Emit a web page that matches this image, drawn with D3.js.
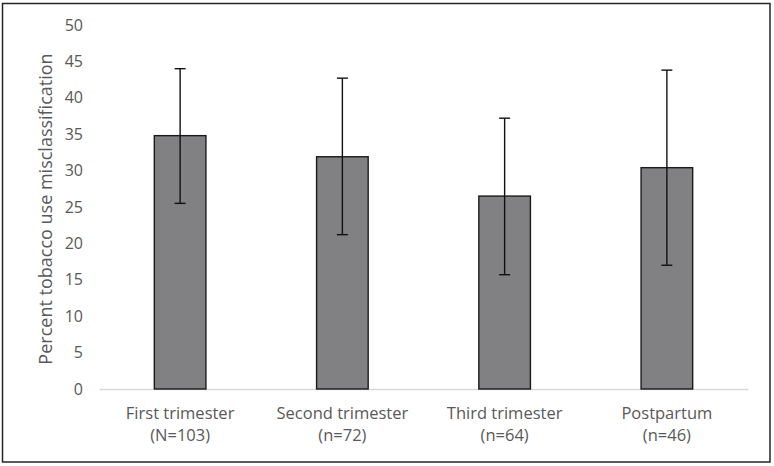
<!DOCTYPE html>
<html>
<head>
<meta charset="utf-8">
<script src="https://cdn.jsdelivr.net/npm/d3@7/dist/d3.min.js"></script>
<style>
  html, body { margin: 0; padding: 0; background: #fff; }
  svg { display: block; }
  text { font-family: "Open Sans", "Noto Sans", sans-serif; fill: #595959; }
</style>
</head>
<body>
<svg id="chart" width="774" height="466"></svg>
<script>
const categories = ["First trimester", "Second trimester", "Third trimester", "Postpartum"];
const sampleSizes = ["(N=103)", "(n=72)", "(n=64)", "(n=46)"];
const values = [34.8, 31.9, 26.5, 30.4];
const errUpper = [44.0, 42.7, 37.2, 43.8];
const errLower = [25.5, 21.2, 15.7, 17.0];
const yTicks = [0, 5, 10, 15, 20, 25, 30, 35, 40, 45, 50];
const yTitle = "Percent tobacco use misclassification";

const svg = d3.select("#chart");

svg.append("rect")
  .attr("x", 2.5).attr("y", 3.5).attr("width", 767.5).attr("height", 458.5)
  .attr("fill", "#fff").attr("stroke", "#262626").attr("stroke-width", 1.5);

const x = d3.scaleBand().domain(categories).range([99, 748]).padding(0);
const y = d3.scaleLinear().domain([0, 50]).range([389, 25]);
const barW = x.bandwidth() * 0.318;

// y axis labels
const yAxis = d3.axisLeft(y).tickValues(yTicks).tickSize(0).tickPadding(0);
const gy = svg.append("g").attr("transform", "translate(83,0)").call(yAxis);
gy.select(".domain").remove();
gy.selectAll("text").attr("font-size", 16).attr("fill", "#595959")
  .style("font-family", '"Open Sans", sans-serif');

// baseline
const xAxis = d3.axisBottom(x).tickSize(0).tickFormat("");
const gx = svg.append("g").attr("transform", `translate(0,${y(0)})`).call(xAxis);
gx.select(".domain").attr("stroke", "#d9d9d9").attr("stroke-width", 1.3);

// bars
svg.selectAll("rect.bar").data(categories).join("rect")
  .attr("class", "bar")
  .attr("x", d => x(d) + x.bandwidth() / 2 - barW / 2)
  .attr("y", (d, i) => y(values[i]))
  .attr("width", barW)
  .attr("height", (d, i) => y(0) - y(values[i]))
  .attr("fill", "#818183").attr("stroke", "#1a1a1a").attr("stroke-width", 1.4);

// error bars
const cap = 5.5;
const eb = svg.append("g").attr("stroke", "#111").attr("stroke-width", 1.4);
categories.forEach((c, i) => {
  const cx = x(c) + x.bandwidth() / 2;
  eb.append("line").attr("x1", cx).attr("x2", cx).attr("y1", y(errUpper[i])).attr("y2", y(errLower[i]));
  eb.append("line").attr("x1", cx - cap).attr("x2", cx + cap).attr("y1", y(errUpper[i])).attr("y2", y(errUpper[i]));
  eb.append("line").attr("x1", cx - cap).attr("x2", cx + cap).attr("y1", y(errLower[i])).attr("y2", y(errLower[i]));
});

// x labels
const xl = svg.append("g");
categories.forEach((c, i) => {
  const cx = x(c) + x.bandwidth() / 2;
  const t = xl.append("text").attr("text-anchor", "middle").attr("font-size", 16.5);
  t.append("tspan").attr("x", cx).attr("y", 419).text(c);
  t.append("tspan").attr("x", cx).attr("y", 441).text(sampleSizes[i]);
});

// y title
svg.append("text")
  .attr("transform", "translate(52,209) rotate(-90)")
  .attr("text-anchor", "middle")
  .attr("font-size", 18)
  .text(yTitle);
</script>
</body>
</html>
